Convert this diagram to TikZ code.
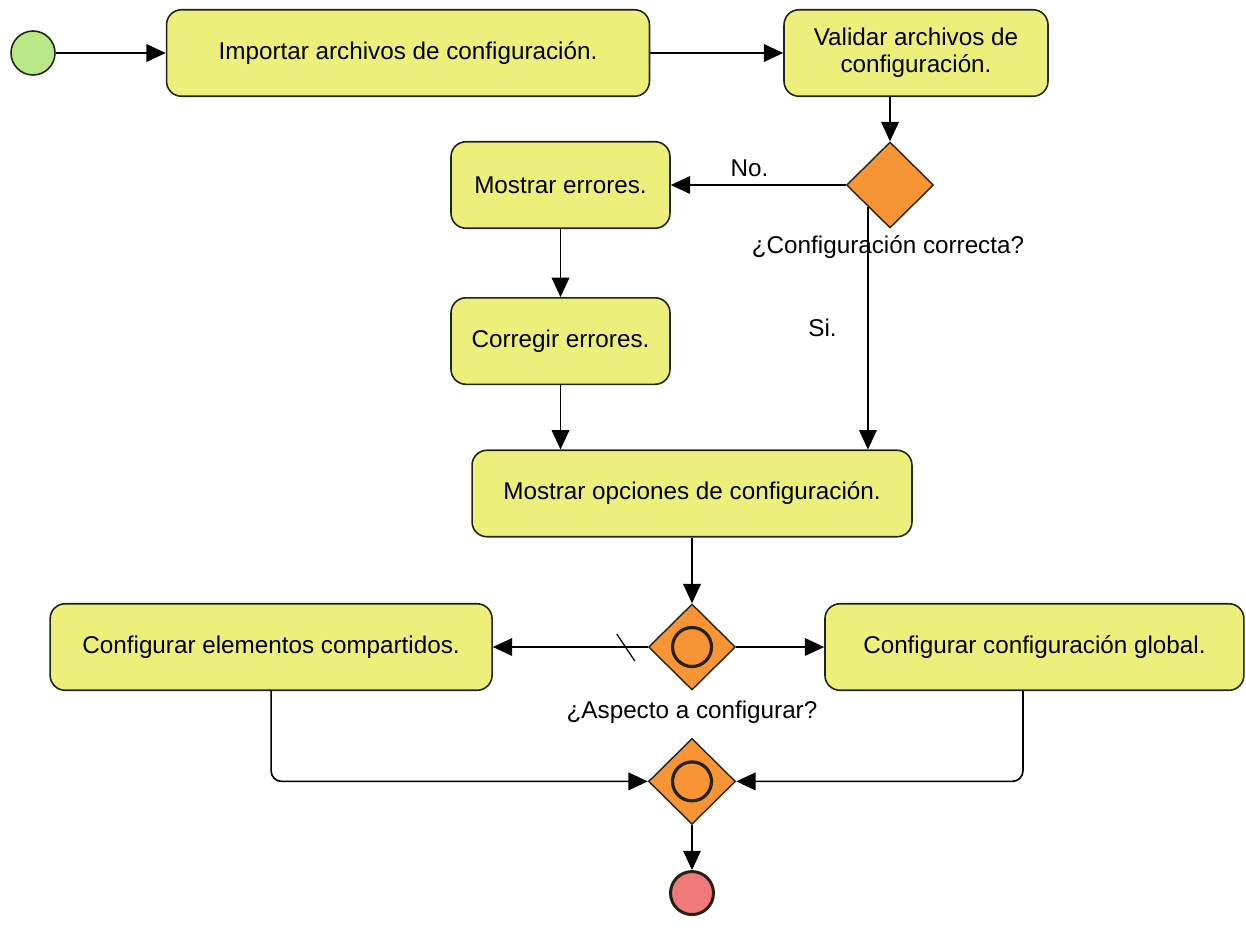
\documentclass[tikz,border=0pt]{standalone}
\usepackage{fontspec}
\setmainfont{Liberation Sans}
\usepackage{xcolor}
\usetikzlibrary{positioning,shapes.geometric,arrows.meta}

\definecolor{actfill}{RGB}{236,240,122}
\definecolor{gatefill}{RGB}{247,148,52}
\definecolor{startfill}{RGB}{184,233,134}
\definecolor{endfill}{RGB}{240,122,122}
\definecolor{edgecol}{RGB}{35,35,20}

\tikzset{
  activity/.style={draw=edgecol, fill=actfill, line width=0.9pt, rounded corners=8.5pt,
    minimum height=1.73cm, align=center, font=\fontsize{13.8}{15.5}\selectfont},
  gateway/.style={diamond, draw=edgecol, fill=gatefill, line width=0.8pt,
    minimum width=1.74cm, minimum height=1.72cm, inner sep=0pt},
  gatewayor/.style={gateway, path picture={\draw[line width=1.8pt]
    (path picture bounding box.center) circle (0.39cm);}},
  flow/.style={->, line width=0.95pt, draw=black},
  lbl/.style={font=\fontsize{13.8}{15.5}\selectfont}
}

\begin{document}
\begin{tikzpicture}[x=0.02cm, y=-0.02cm, >={Triangle[length=11pt,width=10pt]}]
\useasboundingbox (0,0) rectangle (1246,937);

\node[circle, draw=edgecol, fill=startfill, line width=0.9pt, minimum size=0.88cm, inner sep=0pt] (start) at (33,53) {};
\node[activity, minimum width=9.66cm, right=2.2cm of start] (import) {Importar archivos de configuración.};
\node[activity, minimum width=5.28cm, right=2.66cm of import] (validar) {Validar archivos de\\configuración.};
\node[gateway] (valida) at (890,185) {};
\node[lbl] (valtxt) at (888,247) {¿Configuración correcta?};
\node[activity, minimum width=4.38cm] (errores) at (560.5,185) {Mostrar errores.};
\node[activity, minimum width=4.38cm, below=1.36cm of errores] (corregir) {Corregir errores.};
\node[activity, minimum width=8.8cm] (opciones) at (692,493.5) {Mostrar opciones de configuración.};
\node[gatewayor] (aspecto) at (692,647) {};
\node[lbl] (asptxt) at (692,712) {¿Aspecto a configurar?};
\node[activity, minimum width=8.84cm, left=3.1cm of aspecto] (compartidos) {Configurar elementos compartidos.};
\node[activity, minimum width=8.38cm, right=1.76cm of aspecto] (global) {Configurar configuración global.};
\node[gatewayor, below=0.94cm of aspecto] (union) {};
\node[circle, draw=edgecol, fill=endfill, line width=1.7pt, minimum size=0.86cm, inner sep=0pt, below=0.9cm of union] (fin) {};

\draw[flow] (start) -- (import);
\draw[flow] (import) -- (validar);
\draw[flow] (validar.south -| valida.north) -- (valida.north);
\draw[flow] (valida.west) -- node[lbl, above=1pt, pos=0.55] (no) {No.} (errores.east);
\draw[flow] (errores) -- (corregir);
\draw[flow] (corregir.south) -- (corregir.south |- opciones.north);
\draw[flow] (valida.south west) -- node[lbl, pos=0.5, left=14pt] (si) {Si.} (valida.south west |- opciones.north);
\draw[flow] (opciones.south -| aspecto.north) -- (aspecto.north);
\draw[flow] (aspecto.west) -- (compartidos.east);
\draw[line width=0.7pt] ([shift={(-31,-13)}]aspecto.west) -- ++(18,27);
\draw[flow] (aspecto.east) -- (global.west);
\draw[flow, rounded corners=6pt] (compartidos.south) |- (union.west);
\draw[flow, rounded corners=6pt] ([xshift=-0.23cm]global.south) |- (union.east);
\draw[flow] (union) -- (fin);
\end{tikzpicture}
\end{document}
